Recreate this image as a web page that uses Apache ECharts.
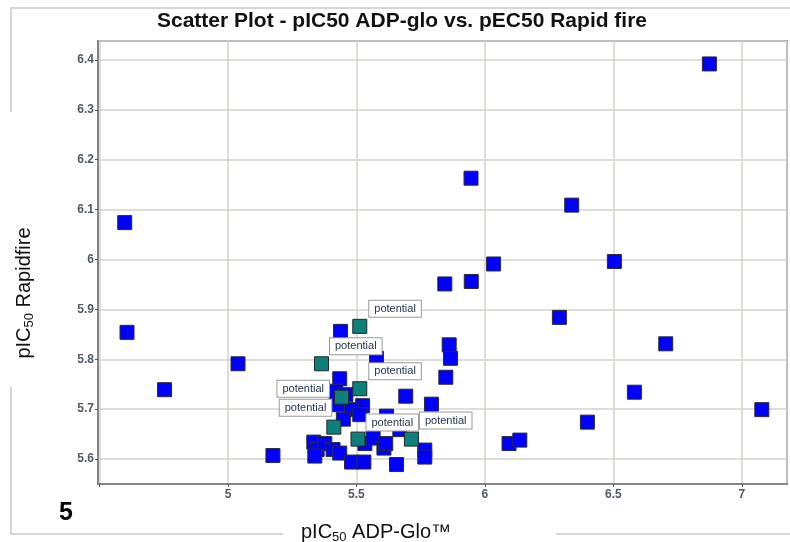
<!DOCTYPE html>
<html>
<head>
<meta charset="utf-8">
<script src="https://cdn.jsdelivr.net/npm/echarts@6/dist/echarts.min.js"></script>
<style>
  html, body { margin: 0; padding: 0; background: #fff; }
  #chart { width: 790px; height: 542px; }
</style>
</head>
<body>
<div id="chart"></div>
<script>
// Compounds: pIC50 from ADP-Glo (x) against pIC50 from RapidFire (y)
const otherX = [6.874, 4.598, 5.946, 6.338, 6.504, 6.034, 5.844, 5.947, 6.290, 4.607,
                6.704, 5.861, 5.866, 5.039, 4.753, 6.582, 5.848, 5.692, 6.399, 7.078,
                5.792, 5.175, 6.094, 6.136, 5.766, 5.766, 5.656, 5.438, 5.578, 5.435,
                5.420, 5.459, 5.425, 5.524, 5.481, 5.513, 5.449, 5.617, 5.669, 5.533,
                5.565, 5.607, 5.614, 5.334, 5.347, 5.377, 5.338, 5.409, 5.435, 5.481,
                5.529];
const otherY = [6.392, 6.074, 6.163, 6.109, 5.996, 5.991, 5.951, 5.956, 5.884, 5.854,
                5.831, 5.829, 5.802, 5.791, 5.739, 5.734, 5.764, 5.726, 5.674, 5.699,
                5.710, 5.607, 5.631, 5.638, 5.618, 5.604, 5.589, 5.856, 5.802, 5.761,
                5.736, 5.729, 5.709, 5.707, 5.699, 5.689, 5.680, 5.686, 5.659, 5.631,
                5.642, 5.622, 5.631, 5.634, 5.619, 5.631, 5.606, 5.619, 5.612, 5.594,
                5.594];

// Compounds flagged as "potential"
const potentialX = [5.513, 5.364, 5.513, 5.442, 5.412, 5.506, 5.714];
const potentialY = [5.866, 5.791, 5.741, 5.724, 5.664, 5.640, 5.640];
const potentialText = ['potential', 'potential', 'potential', 'potential', 'potential', 'potential', 'potential'];

// labelled x ticks start here
const firstXLabel = 5;

const chartTitle = 'Scatter Plot - pIC50 ADP-glo vs. pEC50 Rapid fire';
const panelNumber = '5';

// callout placement for each flagged point: [dx, dy, align]
const calloutPlace = [
  [17, -10, 'left'], [16, -10, 'left'], [17, -10, 'left'],
  [-5, -1, 'right'], [5, -12, 'right'], [16, -9, 'left'], [16, -11, 'left']
];

const FONT = '"Liberation Sans", Arial, sans-serif';
const TICK_FONT = '"Liberation Sans Narrow", "Arial Narrow", "Liberation Sans", sans-serif';

const chart = echarts.init(document.getElementById('chart'), null, { renderer: 'canvas' });

const otherData = otherX.map((x, i) => [x, otherY[i]]);
const potentialData = potentialX.map((x, i) => ({
  value: [x, potentialY[i]],
  label: {
    formatter: potentialText[i],
    position: [calloutPlace[i][0], calloutPlace[i][1]],
    align: calloutPlace[i][2],
    verticalAlign: 'middle'
  }
}));

const axisLabelStyle = {
  color: '#4f5a68',
  fontSize: 12,
  fontWeight: 'bold',
  fontFamily: TICK_FONT
};

const lineColor = '#c9c9c9';

chart.setOption({
  animation: false,
  backgroundColor: '#ffffff',
  grid: {
    left: 98, top: 41, right: 3, bottom: 58,
    show: true, borderColor: '#858585', borderWidth: 2, backgroundColor: 'transparent'
  },
  xAxis: {
    type: 'value',
    min: 4.494, max: 7.176,
    splitNumber: 5,
    axisLine: { show: true, lineStyle: { color: '#858585', width: 2 } },
    axisTick: { show: true, length: 3, lineStyle: { color: '#555' } },
    axisLabel: Object.assign({
      margin: 5, showMinLabel: false, showMaxLabel: false,
      formatter: v => (v < firstXLabel - 0.01 ? '' : String(+v.toFixed(2)))
    }, axisLabelStyle),
    splitLine: { show: true, lineStyle: { color: '#d3d3cc', width: 1.5 } }
  },
  yAxis: {
    type: 'value',
    min: 5.55, max: 6.438,
    splitNumber: 9,
    axisLine: { show: true, lineStyle: { color: '#858585', width: 2 } },
    axisTick: { show: true, length: 3, lineStyle: { color: '#555' } },
    axisLabel: Object.assign({ margin: 4, showMinLabel: false, showMaxLabel: false }, axisLabelStyle),
    splitLine: { show: true, lineStyle: { color: '#d3d3cc', width: 1.5 } }
  },
  series: [
    {
      name: 'compounds',
      type: 'scatter',
      symbol: 'rect',
      symbolSize: 14,
      itemStyle: { color: '#0000ff', borderColor: '#2a2a3a', borderWidth: 1, opacity: 1 },
      data: otherData,
      z: 2
    },
    {
      name: 'potential',
      type: 'scatter',
      symbol: 'rect',
      symbolSize: 14,
      itemStyle: { color: '#0e7f7b', borderColor: '#1f2a2a', borderWidth: 1, opacity: 1 },
      label: {
        show: true,
        color: '#24364f',
        fontSize: 11,
        fontFamily: FONT,
        backgroundColor: '#ffffff',
        borderColor: '#9a9a9a',
        borderWidth: 1,
        padding: [2, 5, 1, 5],
        lineHeight: 13
      },
      data: potentialData,
      z: 3
    }
  ],
  graphic: [
    // outer panel frame
    { type: 'polyline', shape: { points: [[11, 112], [11, 8], [790, 8]] }, style: { stroke: lineColor, lineWidth: 1.5, fill: null }, silent: true },
    { type: 'polyline', shape: { points: [[11, 387], [11, 534], [283, 534]] }, style: { stroke: lineColor, lineWidth: 1.5, fill: null }, silent: true },
    { type: 'line', shape: { x1: 556, y1: 534, x2: 790, y2: 534 }, style: { stroke: lineColor, lineWidth: 1.5 }, silent: true },
    // chart title
    {
      type: 'text', x: 402, y: 21,
      style: { text: chartTitle, fill: '#111', font: 'bold 21px ' + FONT, align: 'center', verticalAlign: 'middle' }
    },
    // x axis title
    {
      type: 'text', x: 376, y: 532,
      style: {
        text: '{m|pIC}{s|50}{m| ADP-Glo™}',
        align: 'center', verticalAlign: 'middle',
        rich: {
          m: { fontSize: 20, fontFamily: FONT, fill: '#111', lineHeight: 24 },
          s: { fontSize: 13, fontFamily: FONT, fill: '#111', lineHeight: 12, verticalAlign: 'bottom' }
        }
      }
    },
    // y axis title
    {
      type: 'text', x: 24, y: 293, rotation: Math.PI / 2,
      style: {
        text: '{m|pIC}{s|50}{m| Rapidfire}',
        align: 'center', verticalAlign: 'middle',
        rich: {
          m: { fontSize: 20, fontFamily: FONT, fill: '#111', lineHeight: 24 },
          s: { fontSize: 13, fontFamily: FONT, fill: '#111', lineHeight: 12, verticalAlign: 'bottom' }
        }
      }
    },
    // panel number
    {
      type: 'text', x: 66, y: 513,
      style: { text: panelNumber, fill: '#000', font: 'bold 25px ' + FONT, align: 'center', verticalAlign: 'middle' }
    }
  ]
});
</script>
</body>
</html>
